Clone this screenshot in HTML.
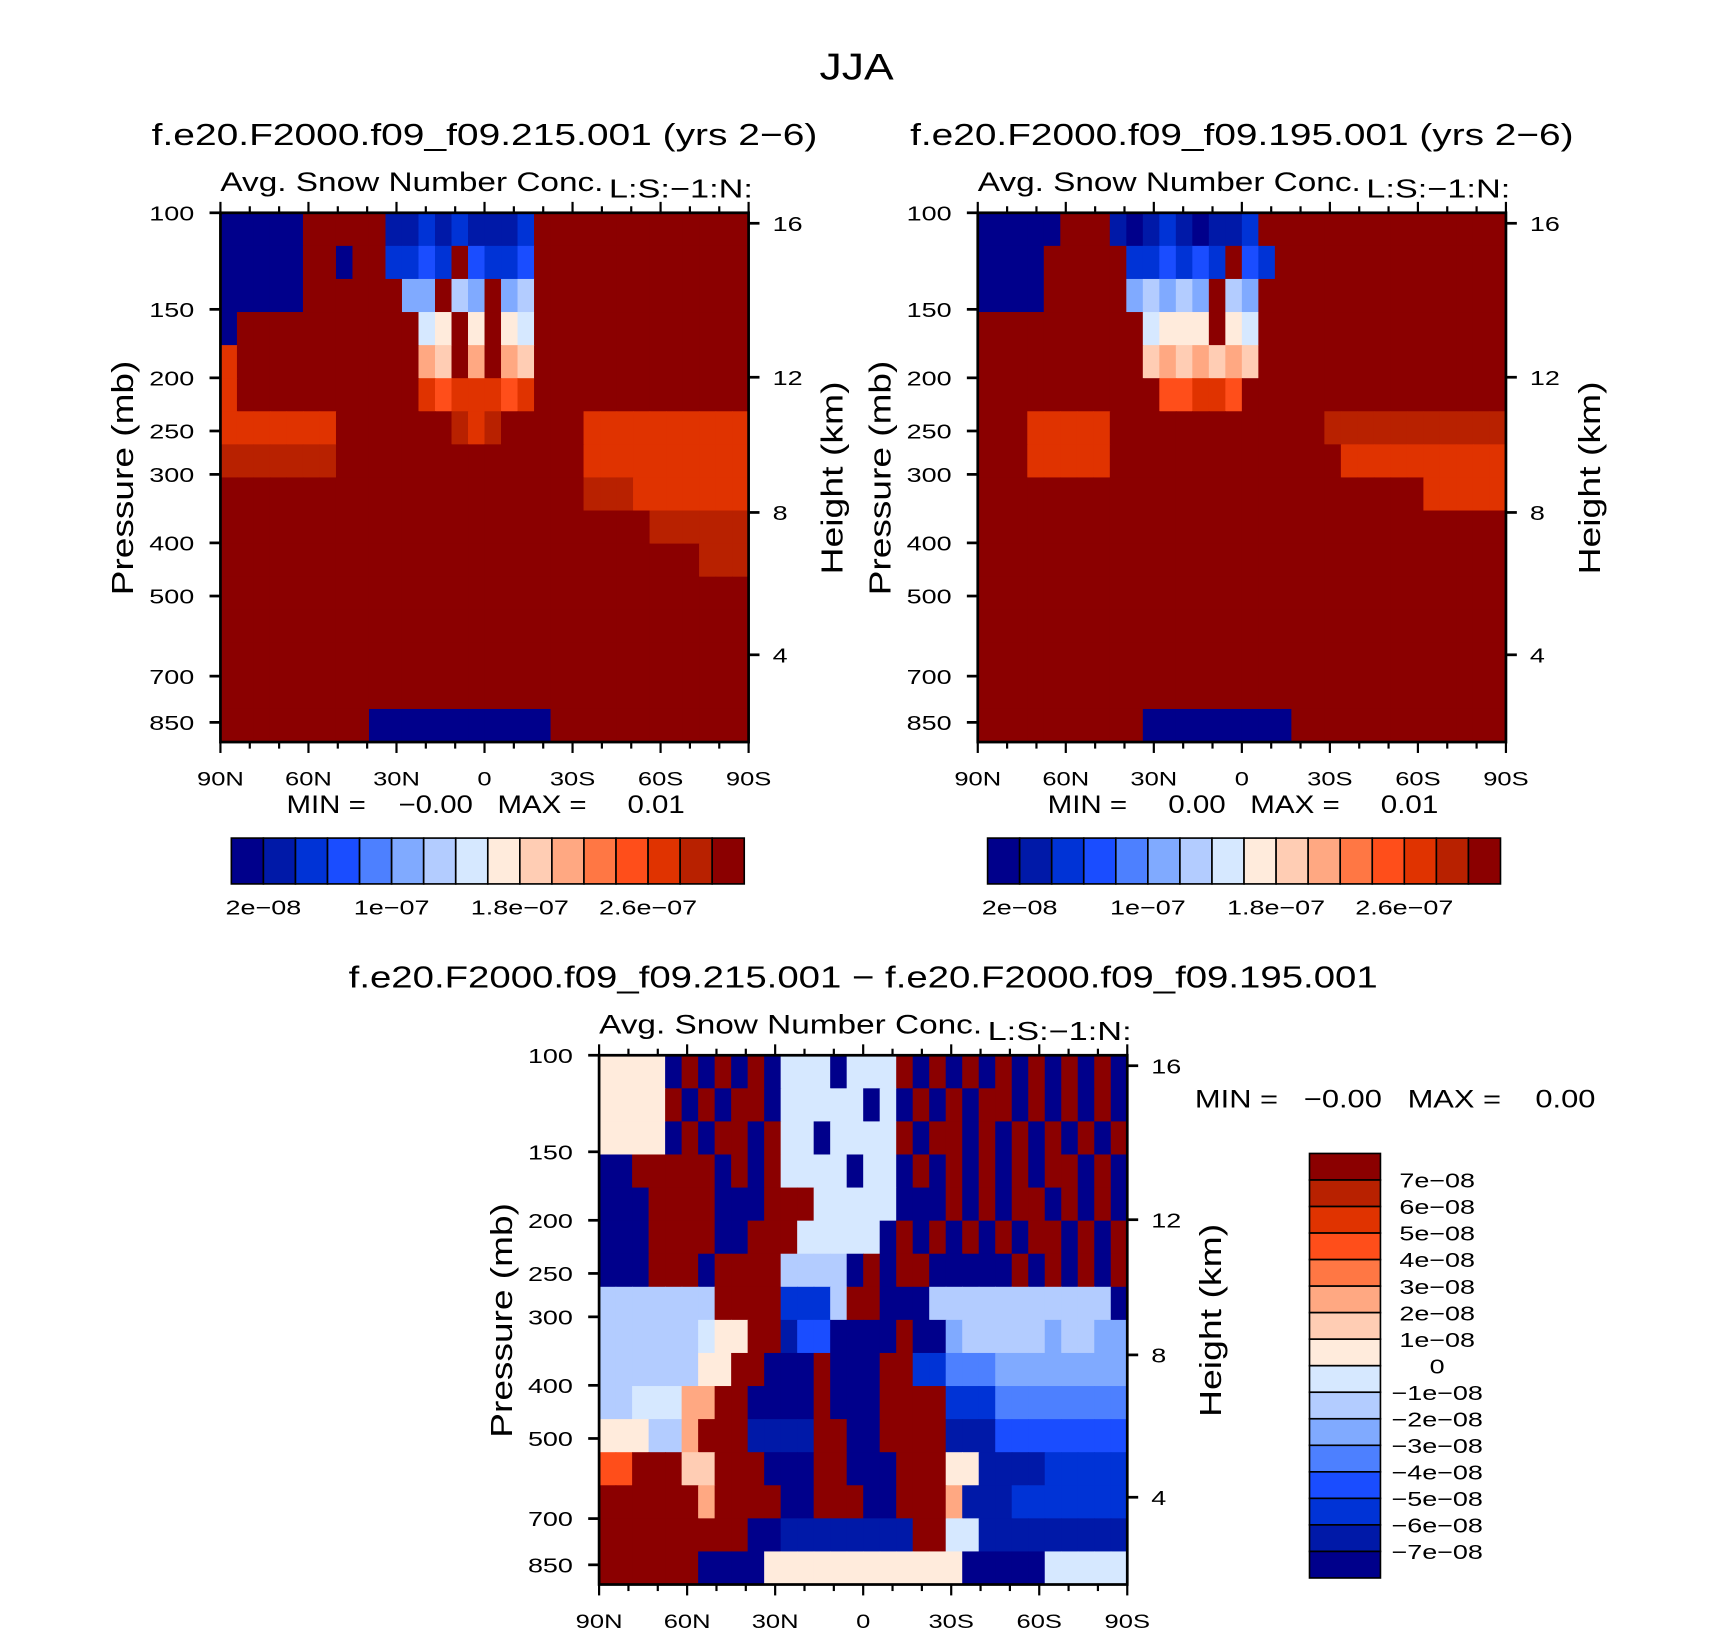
<!DOCTYPE html>
<html><head><meta charset="utf-8"><style>
html,body{margin:0;padding:0;background:#fff;}
svg{display:block;font-family:"Liberation Sans","DejaVu Sans",sans-serif;}
text{white-space:pre;}
</style></head><body>
<svg id="fig" width="1710" height="1631" viewBox="0 0 1567 1494.6" xmlns="http://www.w3.org/2000/svg">
<rect width="1567" height="1494.6" fill="#fff"/>
</svg>
<script>
const palette = ["#00008b","#0019a8","#0033d6","#1a4dff","#4d80ff","#80aaff","#b3ccff","#d6e8ff","#ffebdc","#ffcdb4","#ffa882","#ff7744","#ff4e1a","#e03300","#b82100","#8b0000"];
const pressureTicks = [100,150,200,250,300,400,500,700,850];
const heightTicks = [16,12,8,4];
const heightTickPress = [104.5,199.5,352,640];
const latTicks = ["90N","60N","30N","0","30S","60S","90S"];
const topBarLabels = ["2e\u221208","1e\u221207","1.8e\u221207","2.6e\u221207"];
const topBarLabelIdx = [1,5,9,13];
const diffBarLabels = ["7e\u221208","6e\u221208","5e\u221208","4e\u221208","3e\u221208","2e\u221208","1e\u221208","0","\u22121e\u221208","\u22122e\u221208","\u22123e\u221208","\u22124e\u221208","\u22125e\u221208","\u22126e\u221208","\u22127e\u221208"];
const fieldA = [
"00000ddddd112121112ddddddddddddd",
"00000dd0dd2232d3223ddddddddddddd",
"00000dddddd44d54d45ddddddddddddd",
"0ddddddddddd67d7d76ddddddddddddd",
"bddddddddddd98d9d98ddddddddddddd",
"bdddddddddddbabbbabddddddddddddd",
"bbbbbbbdddddddcbcdddddbbbbbbbbbb",
"cccccccdddddddddddddddbbbbbbbbbb",
"ddddddddddddddddddddddcccbbbbbbb",
"ddddddddddddddddddddddddddcccccc",
"dddddddddddddddddddddddddddddccc",
"dddddddddddddddddddddddddddddddd",
"dddddddddddddddddddddddddddddddd",
"dddddddddddddddddddddddddddddddd",
"dddddddddddddddddddddddddddddddd",
"ddddddddd00000000000dddddddddddd"];
const fieldB = [
"00000ddd101210112ddddddddddddddd",
"0000ddddd223232d32dddddddddddddd",
"0000ddddd45454d54ddddddddddddddd",
"dddddddddd6777d76ddddddddddddddd",
"dddddddddd8989898ddddddddddddddd",
"dddddddddddaabbadddddddddddddddd",
"dddbbbbbdddddddddddddccccccccccc",
"dddbbbbbddddddddddddddbbbbbbbbbb",
"dddddddddddddddddddddddddddbbbbb",
"dddddddddddddddddddddddddddddddd",
"dddddddddddddddddddddddddddddddd",
"dddddddddddddddddddddddddddddddd",
"dddddddddddddddddddddddddddddddd",
"dddddddddddddddddddddddddddddddd",
"dddddddddddddddddddddddddddddddd",
"dddddddddd000000000ddddddddddddd"];
const fieldDiff = [
"88880f0f0f07770777f0f0f0f0f0f0f0",
"8888f0f0ff077777070f0f0ff0f0f0f0",
"88880f0ff0f7707777f0ff0f0f0f0f0f",
"00fffff0f0f77770770f0f0f0f0ff0f0",
"000ffff000fff77777000f0f0ff0f0f0",
"000ffff00fff777770f0f0f0f0ff0f0f",
"000fff0ffff66660f0ff00000f0f0f0f",
"6666666ffff2226ff000666666666660",
"666666788ff1330000f0056666656655",
"66666688ff000f000ff2244455555555",
"66777aaff0000f000ffff22244444444",
"88866afff1111ff00ffff11133333333",
"ccfff99fff000ff000fff88111122222",
"ffffffaffff00fff00fffa1112222222",
"fffffffff0011111111ff77111111111",
"ffffff000088888888888800000777770"];

const svg = document.getElementById('fig');
const NS = "http://www.w3.org/2000/svg";
function el(tag, attrs, parent){const e=document.createElementNS(NS,tag);for(const k in attrs)e.setAttribute(k,attrs[k]);(parent||svg).appendChild(e);return e;}
function txt(x,y,s,size,anchor,parent){const t=el('text',{x:x,y:y,'font-size':size,'text-anchor':anchor||'start'},parent);t.textContent=s;return t;}
function fit(t,len){t.setAttribute('textLength',len);t.setAttribute('lengthAdjust','spacingAndGlyphs');}
function stretch(t,f){const w=t.getComputedTextLength();if(w>0)fit(t,w*f);}

let jt=txt(785,73,'JJA',34,'middle');fit(jt,68);


function drawPanel(px, py, field, scale14, title, titleLen, name){
  const W=484, H=485;
  const g = el('g',{});
  
  
  const yOfP = p => py + (Math.log(p)-Math.log(100))*218.2;
  const xOfCol = c => px + c*W/32;
  const nr = field.length;
  for(let r=0;r<nr;r++){
    const row=field[r];
    for(let c=0;c<32;c++){
      let v=parseInt(row[c],16);
      if(scale14) v=Math.round(v*15/13);
      const rc=el('rect',{x:xOfCol(c),y:py+r*H/nr,width:W/32+0.6,height:H/nr+0.6,fill:palette[v]},g);
      
      
    }
  }
  el('rect',{x:px,y:py,width:W,height:H,fill:'none',stroke:'#000','stroke-width':2.5},g);
  pressureTicks.forEach(p=>{const y=yOfP(p);el('line',{x1:px-10,x2:px,y1:y,y2:y,stroke:'#000','stroke-width':2.5},g);
    const t=txt(px-24,y+7,String(p),19,'end',g);stretch(t,1.3);});
  heightTicks.forEach((h,i)=>{const y=yOfP(heightTickPress[i]);el('line',{x1:px+W,x2:px+W+10,y1:y,y2:y,stroke:'#000','stroke-width':2.5},g);
    const t=txt(px+W+22,y+7,String(h),19,'start',g);stretch(t,1.3);});
  for(let i=0;i<=18;i++){const x=px+i*W/18;const len=(i%3==0)?10:6;
    el('line',{x1:x,x2:x,y1:py+H,y2:py+H+len,stroke:'#000','stroke-width':2},g);
    el('line',{x1:x,x2:x,y1:py,y2:py-len,stroke:'#000','stroke-width':2},g);}
  latTicks.forEach((l,i)=>{const t=txt(px+i*W/6,py+H+40,l,18,'middle',g);stretch(t,1.3);});
  const yt=el('text',{x:0,y:0,'font-size':28,'text-anchor':'middle',transform:`translate(${px-80},${py+243}) rotate(-90)`},g);yt.textContent='Pressure (mb)';fit(yt,215);
  
  const ht=el('text',{x:0,y:0,'font-size':28,'text-anchor':'middle',transform:`translate(${px+W+86},${py+243}) rotate(-90)`},g);ht.textContent='Height (km)';fit(ht,177);
  
  const st=txt(px,py-20,'Avg. Snow Number Conc.',25,'start',g);fit(st,351);
  const ls=txt(px+W+4,py-14,'L:S:\u22121:N:',24,'end',g);fit(ls,132);
  const tt=txt(px+W/2,py-62,title,28,'middle',g);fit(tt,titleLen);
  return g;
}
function topBar(x0,y0,name){
  const g=el('g',{});
  const w=470/16;
  for(let i=0;i<16;i++){const r=el('rect',{x:x0+i*w,y:y0,width:w,height:42,fill:palette[i],stroke:'#000','stroke-width':1.5},g);
    }
  topBarLabels.forEach((l,i)=>{const t=txt(x0+topBarLabelIdx[i]*w,y0+70,l,19,'middle',g);stretch(t,1.3);});
}
function minmax(x,y,s,len,anchor){const m=txt(x,y,s,23,anchor);fit(m,len);}

drawPanel(202,195,fieldA,true,'f.e20.F2000.f09_f09.215.001 (yrs 2\u22126)',610,'panel-215');
minmax(445,745,'MIN =    \u22120.00   MAX =     0.01',365,'middle');
topBar(212,768,'colorbar-215');
drawPanel(896,195,fieldB,true,'f.e20.F2000.f09_f09.195.001 (yrs 2\u22126)',608,'panel-195');
minmax(1139,745,'MIN =     0.00   MAX =     0.01',358,'middle');
topBar(905,768,'colorbar-195');
drawPanel(549,967,fieldDiff,false,'f.e20.F2000.f09_f09.215.001 \u2212 f.e20.F2000.f09_f09.195.001',943,'panel-diff');
minmax(1095,1015,'MIN =   \u22120.00   MAX =    0.00',367,'start');
(function(){
  const g=el('g',{});
  const h=389/16;
  for(let i=0;i<16;i++){const r=el('rect',{x:1200,y:1057+i*h,width:65,height:h,fill:palette[15-i],stroke:'#000','stroke-width':1.5},g);
    }
  diffBarLabels.forEach((l,i)=>{const t=txt(1317,1057+(i+1)*h+7,l,19,'middle',g);stretch(t,1.3);});
})();
</script>
</body></html>
